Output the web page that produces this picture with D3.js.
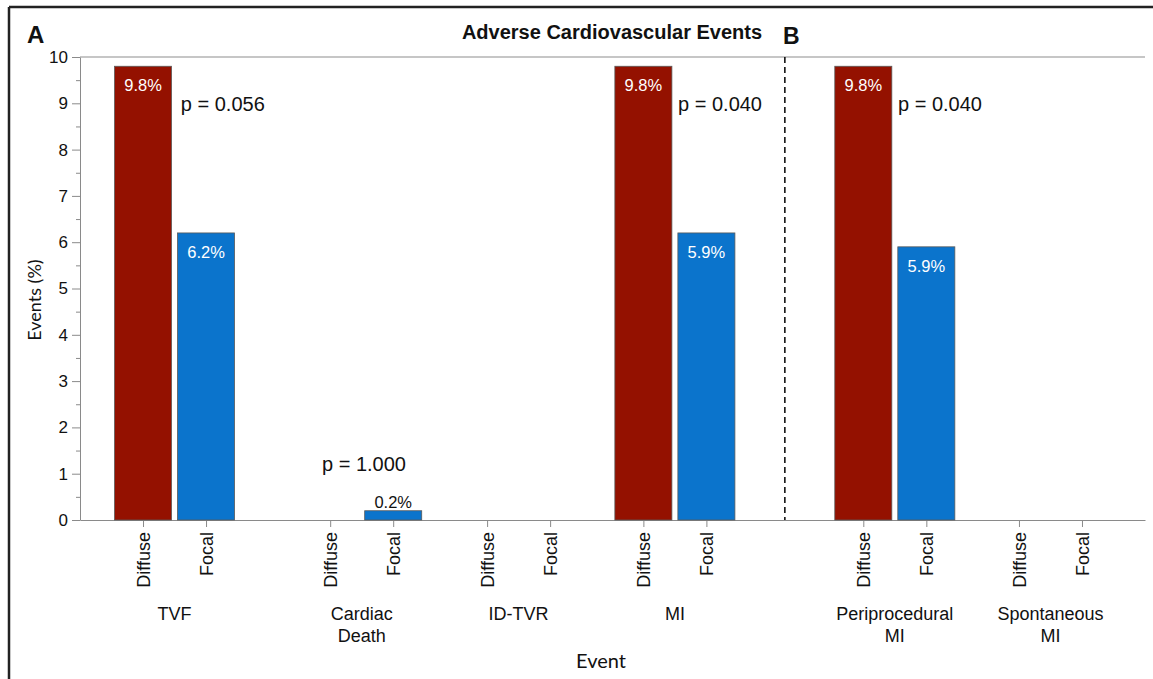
<!DOCTYPE html>
<html>
<head>
<meta charset="utf-8">
<script src="https://cdn.jsdelivr.net/npm/d3@7"></script>
<style>
	body { margin: 0; background: #fff; }
	text { font-family: "Liberation Sans", Arial, sans-serif; fill: #111; }
</style>
</head>
<body>
<svg id="chart"></svg>
<script>
// data
const groups = ["TVF", "Cardiac Death", "ID-TVR", "MI", "Periprocedural MI", "Spontaneous MI"];
const groupLines = [["TVF"], ["Cardiac", "Death"], ["ID-TVR"], ["MI"], ["Periprocedural", "MI"], ["Spontaneous", "MI"]];
const subgroups = ["Diffuse", "Focal"];
const diffuse = [9.8, 0, 0, 9.8, 9.8, 0];
const focal = [6.2, 0.2, 0, 6.2, 5.9, 0];
const diffuseLabels = ["9.8%", "", "", "9.8%", "9.8%", ""];
const focalLabels = ["6.2%", "0.2%", "", "5.9%", "5.9%", ""];
const pValues = ["p = 0.056", "p = 1.000", "", "p = 0.040", "p = 0.040", ""];
const yTicks = d3.range(0, 11);
const yMinor = d3.range(0.5, 10, 1);

// layout (slot units along the x axis, one slot = one bar pitch)
const groupSlot = [1, 3.97, 6.46, 8.94, 12.43, 14.9];
const pPos = [[0.6, 8.83], [-0.13, 1.06], null, [0.55, 8.83], [0.55, 8.83], null];

const W = 1153, H = 679;
const plot = { l: 80, r: 1145, t: 57, b: 520 };

const svg = d3.select("svg#chart").attr("width", W).attr("height", H);

const x = d3.scaleLinear().domain([0, 16.9]).range([plot.l, plot.r]);
const y = d3.scaleLinear().domain([0, 10]).range([plot.b, plot.t]);
const sub = d3.scaleBand().domain(subgroups).range([-0.5, 1.5]);
const color = d3.scaleOrdinal().domain(subgroups).range(["#941100", "#0b74cc"]);

// bars as flat rows
let rows = [];
groups.forEach((g, i) => {
	rows.push({ g: i, s: "Diffuse", v: diffuse[i], label: diffuseLabels[i] });
	rows.push({ g: i, s: "Focal", v: focal[i], label: focalLabels[i] });
});
const cx = (d) => x(groupSlot[d.g] + sub(d.s) + sub.bandwidth() / 2);
const barW = x(0.905) - x(0);

// outer frame
svg.append("line").attr("x1", 9).attr("x2", W).attr("y1", 7).attr("y2", 7)
	.attr("stroke", "#222").attr("stroke-width", 2.5);
svg.append("line").attr("x1", 9).attr("x2", 9).attr("y1", 7).attr("y2", H)
	.attr("stroke", "#222").attr("stroke-width", 2.5);

// top frame line of the plot
svg.append("line").attr("x1", plot.l).attr("x2", plot.r).attr("y1", plot.t).attr("y2", plot.t)
	.attr("stroke", "#c6c6c6").attr("stroke-width", 2);

// y axis
const yAxis = svg.append("g").attr("transform", `translate(${plot.l},0)`)
	.call(d3.axisLeft(y).tickValues(yTicks).tickSize(8).tickSizeOuter(0).tickPadding(4));
yAxis.select(".domain").attr("stroke", "#8a8a8a");
yAxis.selectAll(".tick line").attr("stroke", "#8a8a8a");
yAxis.selectAll(".tick text").style("font-size", "17px").attr("fill", "#111");

const yMinorAxis = svg.append("g").attr("transform", `translate(${plot.l},0)`)
	.call(d3.axisLeft(y).tickValues(yMinor).tickSize(4).tickSizeOuter(0).tickFormat(""));
yMinorAxis.select(".domain").remove();
yMinorAxis.selectAll(".tick line").attr("stroke", "#8a8a8a");

// x axis, one tick per bar
const xTickVals = [];
const xTickNames = {};
groups.forEach((g, i) => {
	subgroups.forEach((s) => {
		let v = groupSlot[i] + sub(s) + sub.bandwidth() / 2;
		xTickVals.push(v);
		xTickNames[v] = s;
	});
});
const xAxis = svg.append("g").attr("transform", `translate(0,${plot.b})`)
	.call(d3.axisBottom(x).tickValues(xTickVals).tickSize(7).tickSizeOuter(0)
		.tickFormat((d) => xTickNames[d]));
xAxis.select(".domain").attr("stroke", "#8a8a8a");
xAxis.selectAll(".tick line").attr("stroke", "#8a8a8a");
xAxis.selectAll(".tick text")
	.style("font-size", "18px")
	.style("text-anchor", "end")
	.attr("fill", "#111")
	.attr("transform", "rotate(-90)")
	.attr("x", -12)
	.attr("y", 0)
	.attr("dy", "0.36em");

// group labels
svg.append("g").selectAll("text")
	.data(groupLines)
	.join("text")
	.attr("text-anchor", "middle")
	.style("font-size", "18px")
	.attr("transform", (d, i) => `translate(${x(groupSlot[i] + 0.5)}, 620)`)
	.selectAll("tspan")
	.data((d) => d)
	.join("tspan")
	.attr("x", 0)
	.attr("y", (d, j) => j * 22)
	.text((d) => d);

// panel divider
svg.append("line")
	.attr("x1", x((groupSlot[3] + 1 + groupSlot[4]) / 2))
	.attr("x2", x((groupSlot[3] + 1 + groupSlot[4]) / 2))
	.attr("y1", plot.t).attr("y2", plot.b)
	.attr("stroke", "#111").attr("stroke-width", 1.6)
	.attr("stroke-dasharray", "6,4");

// bars
const bars = rows.filter((d) => d.v > 0);
svg.append("g").selectAll("rect")
	.data(bars)
	.join("rect")
	.attr("x", (d) => cx(d) - barW / 2)
	.attr("y", (d) => y(d.v))
	.attr("width", barW)
	.attr("height", (d) => y(0) - y(d.v))
	.attr("fill", (d) => color(d.s))
	.attr("stroke", "#5a5a5a")
	.attr("stroke-width", 0.8);

// bar labels: inside (white) for tall bars, above for short ones
svg.append("g").selectAll("text")
	.data(bars.filter((d) => d.label))
	.join("text")
	.attr("x", cx)
	.attr("y", (d) => (d.v > 1 ? y(d.v) + 25 : y(d.v) - 3))
	.attr("text-anchor", "middle")
	.style("font-size", "16.5px")
	.style("fill", (d) => (d.v > 1 ? "#fff" : "#111"))
	.text((d) => d.label);

// p values
svg.append("g").selectAll("text")
	.data(pValues.map((p, i) => ({ p: p, i: i })).filter((d) => d.p))
	.join("text")
	.attr("x", (d) => x(groupSlot[d.i] + pPos[d.i][0]))
	.attr("y", (d) => y(pPos[d.i][1]))
	.style("font-size", "20px")
	.text((d) => d.p);

// titles
svg.append("text").attr("x", 612).attr("y", 39).attr("text-anchor", "middle")
	.style("font-size", "20px").style("font-weight", "bold")
	.text("Adverse Cardiovascular Events");
svg.append("text").attr("x", 27).attr("y", 43)
	.style("font-size", "24px").style("font-weight", "bold").text("A");
svg.append("text").attr("x", 783).attr("y", 44)
	.style("font-size", "23px").style("font-weight", "bold").text("B");

svg.append("text")
	.attr("transform", "translate(41,300) rotate(-90)")
	.attr("text-anchor", "middle")
	.style("font-family", "Lato, sans-serif")
	.style("font-size", "18px")
	.text("Events (%)");
svg.append("text")
	.attr("x", 601).attr("y", 668)
	.attr("text-anchor", "middle")
	.style("font-family", "Lato, sans-serif")
	.style("font-size", "20px")
	.text("Event");
</script>
</body>
</html>
